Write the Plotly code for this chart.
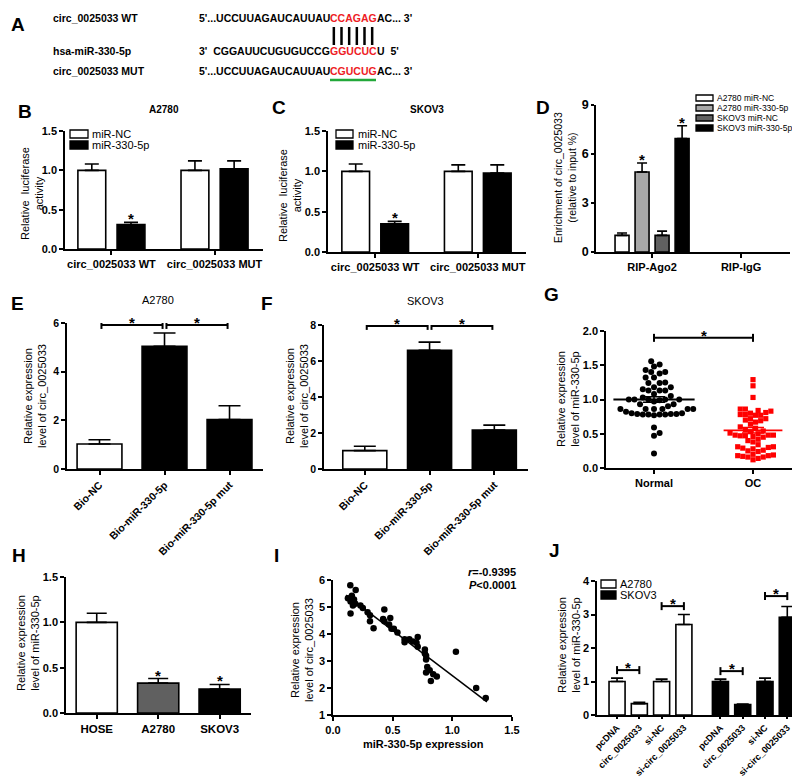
import numpy as np
import plotly.graph_objects as go

W, H = 800, 779
FONT = "Liberation Sans, Arial, sans-serif"
RED = "#ee1c24"
GREEN = "#22a83a"

# ---------------- data ----------------
# A - binding site
seq_labels = ["circ_0025033 WT", "hsa-miR-330-5p", "circ_0025033 MUT"]
seq_left = ["5'...UCCUUAGAUCAUUAU", "3'\u00a0\u00a0CGGAUUCUGUGUCCG", "5'...UCCUUAGAUCAUUAU"]
seq_site = ["CCAGAG", "GGUCUC", "CGUCUG"]
seq_right = ["AC... 3'", "U\u00a0\u00a05'", "AC... 3'"]

# B / C - luciferase
luc_cats = ["circ_0025033 WT", "circ_0025033 MUT"]
luc_series = ["miR-NC", "miR-330-5p"]
B_nc, B_nc_err = [1.00, 1.00], [0.08, 0.12]
B_mir, B_mir_err = [0.31, 1.02], [0.03, 0.10]
B_mir_sig = ["*", ""]
C_nc, C_nc_err = [1.00, 1.00], [0.09, 0.08]
C_mir, C_mir_err = [0.35, 0.98], [0.03, 0.10]
C_mir_sig = ["*", ""]

# D - RIP
rip_cats = ["RIP-Ago2", "RIP-IgG"]
rip_series = ["A2780 miR-NC", "A2780 miR-330-5p", "SKOV3 miR-NC", "SKOV3 miR-330-5p"]
D_a_nc, D_a_nc_err = [1.02, None], [0.14, None]
D_a_mir, D_a_mir_err = [4.90, None], [0.55, None]
D_s_nc, D_s_nc_err = [1.02, None], [0.26, None]
D_s_mir, D_s_mir_err = [6.95, None], [0.78, None]
D_sig = ["", "*", "", "*"]

# E / F - pull-down
pull_cats = ["Bio-NC", "Bio-miR-330-5p", "Bio-miR-330-5p mut"]
E_vals, E_err = [1.03, 5.04, 2.03], [0.17, 0.55, 0.57]
F_vals, F_err = [1.02, 6.60, 2.17], [0.24, 0.45, 0.27]
pull_pairs = [(0, 1), (1, 2)]
E_pair_y = [5.92, 5.92]
F_pair_y = [7.95, 7.95]

# G - tissues
tissue_cats = ["Normal", "OC"]
normal_vals = [1.56, 1.51, 1.48, 1.43, 1.40, 1.38, 1.40, 1.32, 1.32, 1.24, 1.25, 1.24,
               1.18, 1.13, 1.13, 1.13, 1.15, 1.18, 1.08, 1.05, 1.03, 1.00, 1.00, 1.00,
               1.00, 1.00, 0.99, 0.97, 0.93, 0.93, 0.90, 0.86, 0.86, 0.86, 0.86, 0.86,
               0.86, 0.82, 0.80, 0.79, 0.78, 0.78, 0.77, 0.78, 0.78, 0.79, 0.79, 0.80,
               0.59, 0.51, 0.47, 0.21]
oc_vals = [1.29, 1.20, 1.03,
           0.86, 0.84, 0.81, 0.78, 0.77, 0.77, 0.78, 0.80, 0.83, 0.86,
           0.72, 0.70, 0.67, 0.64, 0.69, 0.72,
           0.60, 0.58, 0.56, 0.53,
           0.51, 0.48, 0.47, 0.47, 0.48, 0.46, 0.45, 0.48, 0.50, 0.54,
           0.40, 0.38, 0.42,
           0.31, 0.30, 0.28, 0.25, 0.24, 0.26, 0.29, 0.31, 0.34,
           0.20, 0.19, 0.18, 0.16, 0.12, 0.14, 0.16, 0.17, 0.18]
G_mean = [1.00, 0.55]
G_sem = [0.04, 0.04]
G_pair_y = 1.90

# H - cell lines
cell_cats = ["HOSE", "A2780", "SKOV3"]
H_vals, H_err = [1.00, 0.33, 0.265], [0.10, 0.05, 0.05]
H_sig = ["", "*", "*"]

# I - correlation
I_x = [0.145, 0.19, 0.125, 0.147, 0.158, 0.176, 0.167, 0.187, 0.147, 0.23,
       0.25, 0.29, 0.31, 0.31, 0.34, 0.43, 0.42, 0.43, 0.48, 0.47,
       0.49, 0.51, 0.54, 0.60, 0.60, 0.64, 0.67, 0.70, 0.71, 0.71,
       0.77, 0.77, 0.78, 0.78, 0.79, 0.78, 0.81, 0.82, 0.84, 0.87,
       1.03, 1.20, 1.28]
I_y = [5.81, 5.63, 5.32, 5.20, 5.42, 5.28, 5.06, 5.12, 4.76, 5.06,
       4.96, 4.81, 4.69, 4.47, 4.21, 4.91, 4.56, 4.47, 4.59, 4.35,
       4.19, 4.19, 4.06, 3.81, 3.69, 3.81, 3.72, 3.68, 3.89, 3.53,
       3.43, 3.28, 3.06, 3.19, 2.78, 2.57, 2.66, 2.26, 2.51, 2.43,
       3.34, 2.00, 1.63]
I_r_text = "-0.9395"
I_p_text = "0.0001"

# J - overexpression / knockdown
J_cats = ["pcDNA", "circ_0025033", "si-NC", "si-circ_0025033"]
J_series = ["A2780", "SKOV3"]
J_a, J_a_err = [1.00, 0.34, 1.00, 2.70], [0.10, 0.04, 0.07, 0.30]
J_s, J_s_err = [1.00, 0.31, 1.00, 2.92], [0.07, 0.02, 0.10, 0.32]
J_pairs = [(0, 1), (2, 3)]
J_a_pair_y = [1.34, 3.25]
J_s_pair_y = [1.31, 3.55]

# ---------------- helpers ----------------
fig = go.Figure()
ann, shp = [], []
layout = dict(width=W, height=H, margin=dict(l=0, r=0, t=0, b=0),
              paper_bgcolor="white", plot_bgcolor="white", showlegend=False,
              barmode="overlay", font=dict(family=FONT, size=11, color="black"))

AX = dict(showline=True, linecolor="black", linewidth=1.6, ticks="outside", ticklen=4,
          tickwidth=1.5, tickcolor="black", showgrid=False, zeroline=False,
          automargin=False, fixedrange=True)


def tfont(size=11):
    return dict(family=FONT, size=size, color="black", weight="bold")


def refs(n):
    s = "" if n == 1 else str(n)
    return "x" + s, "y" + s, "xaxis" + s, "yaxis" + s


def px(x):
    return x / W


def py(y):
    return 1 - y / H


def make_axes(n, xpx, ypx, xrange, yrange, ydtick, yfmt="", xtickvals=None, xticktext=None,
              xangle=0, xsize=11, ysize=11, xdtick=None, xfmt=""):
    xr, yr, xk, yk = refs(n)
    xa = dict(AX, domain=[px(xpx[0]), px(xpx[1])], anchor=yr, range=list(xrange),
              tickfont=tfont(xsize), tickangle=xangle)
    if xtickvals is not None:
        xa.update(tickmode="array", tickvals=list(xtickvals), ticktext=list(xticktext))
    else:
        xa.update(tickmode="linear", tick0=xrange[0], dtick=xdtick, tickformat=xfmt)
    ya = dict(AX, domain=[py(ypx[1]), py(ypx[0])], anchor=xr, range=list(yrange),
              tickmode="linear", tick0=yrange[0], dtick=ydtick, tickformat=yfmt,
              tickfont=tfont(ysize))
    layout[xk] = xa
    layout[yk] = ya
    return xr, yr


def star(xr, yr, x, y, shift=-7, size=15):
    ann.append(dict(x=x, y=y, xref=xr, yref=yr, text="<b>*</b>", showarrow=False,
                    yanchor="bottom", yshift=shift, font=dict(family=FONT, size=size, color="black")))


def bars(xr, yr, x, y, err, color, width, cap, sig=None):
    fig.add_trace(go.Bar(
        x=list(x), y=y, width=width, xaxis=xr, yaxis=yr, hoverinfo="skip",
        marker=dict(color=color, line=dict(color="black", width=1.6)),
        error_y=dict(type="data", symmetric=False, array=err,
                     arrayminus=[0 if e is not None else None for e in err],
                     color="black", thickness=1.6, width=cap)))
    if sig:
        for xi, yi, ei, s in zip(x, y, err, sig):
            if s:
                star(xr, yr, xi, yi + ei)


def bracket(xr, yr, x0, x1, yv, tick):
    fig.add_trace(go.Scatter(
        x=[x0, x0, None, x0, x1, None, x1, x1],
        y=[yv - tick, yv + tick, None, yv, yv, None, yv - tick, yv + tick],
        mode="lines", line=dict(color="black", width=2), xaxis=xr, yaxis=yr,
        hoverinfo="skip"))
    star(xr, yr, (x0 + x1) / 2, yv, shift=-8)


def text(x, y, s, size=11, anchor="center", angle=0, bold=False, color="black", pad=1):
    if bold:
        s = "<b>" + s + "</b>"
    ann.append(dict(x=px(x), y=py(y), xref="paper", yref="paper", text=s, showarrow=False,
                    xanchor=anchor, yanchor="middle", textangle=angle, borderpad=pad,
                    borderwidth=0, font=dict(family=FONT, size=size, color=color)))


def legend_box(names, colors, x0, x1, ys, h, tx, size):
    for name, col, yy in zip(names, colors, ys):
        shp.append(dict(type="rect", xref="paper", yref="paper", x0=px(x0), x1=px(x1),
                        y0=py(yy + h / 2), y1=py(yy - h / 2), fillcolor=col,
                        line=dict(color="black", width=1.3)))
        text(tx, yy, name, size=size, anchor="left", pad=0)


def swarm(vals, ppu_x, ppu_y, d):
    vals = np.asarray(vals, dtype=float)
    steps = [0.0]
    for k in range(1, 80):
        steps += [k * d * 0.5, -k * d * 0.5]
    placed = []
    offs = np.zeros(len(vals))
    for i in np.argsort(vals, kind="stable"):
        yp = vals[i] * ppu_y
        for c in steps:
            if all((c - qx) ** 2 + (yp - qy) ** 2 >= d * d for qx, qy in placed):
                break
        placed.append((c, yp))
        offs[i] = c / ppu_x
    return offs


# ---------------- panel letters ----------------
for L, x, y in [("A", 10, 17), ("B", 17, 103), ("C", 271, 100), ("D", 535, 100),
                ("E", 9, 295), ("F", 259, 295), ("G", 543, 286), ("H", 11, 547),
                ("I", 268, 547), ("J", 546, 542)]:
    text(x, y, L, size=19, bold=True)

# ---------------- A ----------------
SEQ_SIZE = 10.5
row_y = [10, 43, 63]
site_x0, site_x1 = 322, 368
for lab, l, s, r, yy in zip(seq_labels, seq_left, seq_site, seq_right, row_y):
    text(45, yy, lab, size=SEQ_SIZE, anchor="left", bold=True, pad=0)
    text(site_x0, yy, l, size=SEQ_SIZE, anchor="right", bold=True, pad=0)
    text(site_x0, yy, s, size=SEQ_SIZE, anchor="left", bold=True, color=RED, pad=0)
    text(site_x1 + 0.5, yy, r, size=SEQ_SIZE, anchor="left", bold=True, pad=0)
n_site = len(seq_site[0])
step = (site_x1 - site_x0) / n_site
for k in range(n_site):
    xc = site_x0 + step * (k + 0.5)
    shp.append(dict(type="line", xref="paper", yref="paper", x0=px(xc), x1=px(xc),
                    y0=py(19), y1=py(37), line=dict(color="black", width=2.5)))
shp.append(dict(type="line", xref="paper", yref="paper", x0=px(site_x0), x1=px(site_x1),
                y0=py(72), y1=py(72), line=dict(color=GREEN, width=2.5)))

# ---------------- B ----------------
grp2 = [-0.19, 0.19]
xr, yr = make_axes(1, (57, 255), (123, 241), (-0.45, 1.47), (0, 1.5), 0.5, ".1f",
                   range(len(luc_cats)), luc_cats)
idx = np.arange(len(luc_cats))
bars(xr, yr, idx + grp2[0], B_nc, B_nc_err, "white", 0.27, 7)
bars(xr, yr, idx + grp2[1], B_mir, B_mir_err, "black", 0.27, 7, B_mir_sig)
text(156, 102, "A2780", size=10, bold=True)
text(24, 186, "Relative  luciferase<br>activity", size=11, angle=-90)
legend_box(luc_series, ["white", "black"], 62, 80, [126, 137], 8, 84, 11)

# ---------------- C ----------------
xr, yr = make_axes(2, (320, 518), (123, 244), (-0.46, 1.47), (0, 1.5), 0.5, ".1f",
                   range(len(luc_cats)), luc_cats)
bars(xr, yr, idx + grp2[0], C_nc, C_nc_err, "white", 0.27, 7)
bars(xr, yr, idx + grp2[1], C_mir, C_mir_err, "black", 0.27, 7, C_mir_sig)
text(419, 102, "SKOV3", size=10, bold=True)
text(282, 188, "Relative  luciferase<br>activity", size=11, angle=-90)
legend_box(luc_series, ["white", "black"], 328, 345, [126, 137], 8, 350, 11)

# ---------------- D ----------------
xr, yr = make_axes(3, (588, 782), (97, 244), (-0.63, 1.55), (0, 9), 3, "",
                   range(len(rip_cats)), rip_cats, ysize=12.5)
layout["yaxis3"]["ticklen"] = 3
D_colors = ["white", "#a8a8a8", "#606060", "black"]
D_series_vals = [(D_a_nc, D_a_nc_err), (D_a_mir, D_a_mir_err), (D_s_nc, D_s_nc_err), (D_s_mir, D_s_mir_err)]
ridx = np.arange(len(rip_cats))
for k, ((v, e), col, sg) in enumerate(zip(D_series_vals, D_colors, D_sig)):
    off = (k - 1.5) * 0.225
    bars(xr, yr, ridx + off, v, e, col, 0.157, 5, [sg, ""])
text(557, 170, "Enrichment of circ_0025033<br>(relative to input %)", size=10.5, angle=-90)
legend_box(rip_series, D_colors, 688, 705, [90, 100, 110, 120], 6, 709, 8.5)

# ---------------- E ----------------
pidx = np.arange(len(pull_cats))
xr, yr = make_axes(4, (59, 255), (315, 461), (-0.5, 2.515), (0, 6), 2, "",
                   pidx, pull_cats, xangle=-45, xsize=10.5, ysize=10.5)
bars(xr, yr, pidx, E_vals, E_err, ["white", "black", "black"], 0.69, 11)
for (a, b), yv in zip(pull_pairs, E_pair_y):
    bracket(xr, yr, a + 0.03, b - 0.03, yv, 4 / 24.33)
text(150, 292, "A2780", size=11)
text(27, 388, "Relative expression<br>level of circ_0025033", size=11, angle=-90)

# ---------------- F ----------------
xr, yr = make_axes(5, (316, 520), (317, 461), (-0.63, 2.52), (0, 8), 2, "",
                   pidx, pull_cats, xangle=-45, xsize=10.5, ysize=10.5)
bars(xr, yr, pidx, F_vals, F_err, ["white", "black", "black"], 0.68, 11)
for (a, b), yv in zip(pull_pairs, F_pair_y):
    bracket(xr, yr, a + 0.03, b - 0.03, yv, 4 / 18.0)
text(417, 293, "SKOV3", size=11)
text(289, 388, "Relative expression<br>level of circ_0025033", size=11, angle=-90)

# ---------------- G ----------------
tidx = np.arange(len(tissue_cats))
xr, yr = make_axes(6, (598, 796), (323, 460), (-0.485, 1.515), (0, 2), 0.5, ".1f",
                   tidx, tissue_cats)
ppx, ppy = (796 - 598) / 2.0, (460 - 323) / 2.0
for gi, (vals, sym, col, dd) in enumerate([(normal_vals, "circle", "black", 5.6),
                                           (oc_vals, "square", "#ff0000", 5.1)]):
    offs = swarm(vals, ppx, ppy, dd)
    fig.add_trace(go.Scatter(x=gi + offs, y=vals, mode="markers", xaxis=xr, yaxis=yr,
                             marker=dict(symbol=sym, size=6.0 if sym == "circle" else 5.2,
                                         color=col, line=dict(width=0)),
                             hoverinfo="skip"))
for gi, col, lw in [(0, "black", 58), (1, "#ff0000", 42)]:
    fig.add_trace(go.Scatter(x=[tidx[gi]], y=[G_mean[gi]], mode="markers", xaxis=xr, yaxis=yr,
                             marker=dict(symbol="line-ew", size=lw, color=col, line=dict(color=col, width=1.8)),
                             error_y=dict(type="data", array=[G_sem[gi]], color=col, thickness=1.5, width=11),
                             hoverinfo="skip"))
bracket(xr, yr, tidx[0], tidx[1], G_pair_y, 4 / ppy)
text(560, 391, "Relative expression<br>level of miR-330-5p", size=11, angle=-90)

# ---------------- H ----------------
hidx = np.arange(len(cell_cats))
xr, yr = make_axes(7, (58, 243), (569, 705), (-0.5, 2.51), (0, 1.5), 0.5, ".1f",
                   hidx, cell_cats, xsize=11.5)
bars(xr, yr, hidx, H_vals, H_err, ["white", "#606060", "black"], 0.67, 10, H_sig)
text(20, 635, "Relative expression<br>level of miR-330-5p", size=11, angle=-90)

# ---------------- I ----------------
xr, yr = make_axes(8, (325, 504), (572, 707), (0, 1.5), (1, 6), 1, "", xdtick=0.5, xfmt=".1f")
fig.add_trace(go.Scatter(x=I_x, y=I_y, mode="markers", xaxis=xr, yaxis=yr,
                         marker=dict(symbol="circle", size=6.5, color="black"), hoverinfo="skip"))
slope, icpt = np.polyfit(I_x, I_y, 1)
fx = np.array([min(I_x) - 0.015, max(I_x) + 0.01])
fig.add_trace(go.Scatter(x=fx, y=slope * fx + icpt, mode="lines", xaxis=xr, yaxis=yr,
                         line=dict(color="black", width=1.5), hoverinfo="skip"))
text(509, 564, "<i>r</i>=" + I_r_text, size=11, anchor="right", bold=True)
text(509, 577, "<i>P</i>&lt;" + I_p_text, size=11, anchor="right", bold=True)
text(415, 736, "miR-330-5p expression", size=11, bold=True)
text(294, 642, "Relative expression<br>level of circ_0025033", size=11, angle=-90)

# ---------------- J ----------------
gap = 0.64
jidx = np.arange(len(J_cats))
jpos = [jidx + g * (len(J_cats) + gap) for g in range(len(J_series))]
xr, yr = make_axes(9, (589, 798), (573, 707), (-0.9, 8.48), (0, 4), 1, "",
                   np.concatenate(jpos), J_cats * len(J_series), xangle=-45, xsize=9.2)
layout["xaxis9"]["ticklen"] = 2
for pos, v, e, col, pys in zip(jpos, [J_a, J_s], [J_a_err, J_s_err], ["white", "black"],
                               [J_a_pair_y, J_s_pair_y]):
    bars(xr, yr, pos, v, e, col, 0.72, 6)
    for (a, b), yv in zip(J_pairs, pys):
        bracket(xr, yr, pos[a], pos[b], yv, 4 / 33.5)
text(561, 637, "Relative expression<br>level of miR-330-5p", size=11, angle=-90)
legend_box(J_series, ["white", "black"], 593, 608, [576, 587], 8, 612, 11)

layout["annotations"] = ann
layout["shapes"] = shp
fig.update_layout(**layout)
fig.write_html("out.html")
